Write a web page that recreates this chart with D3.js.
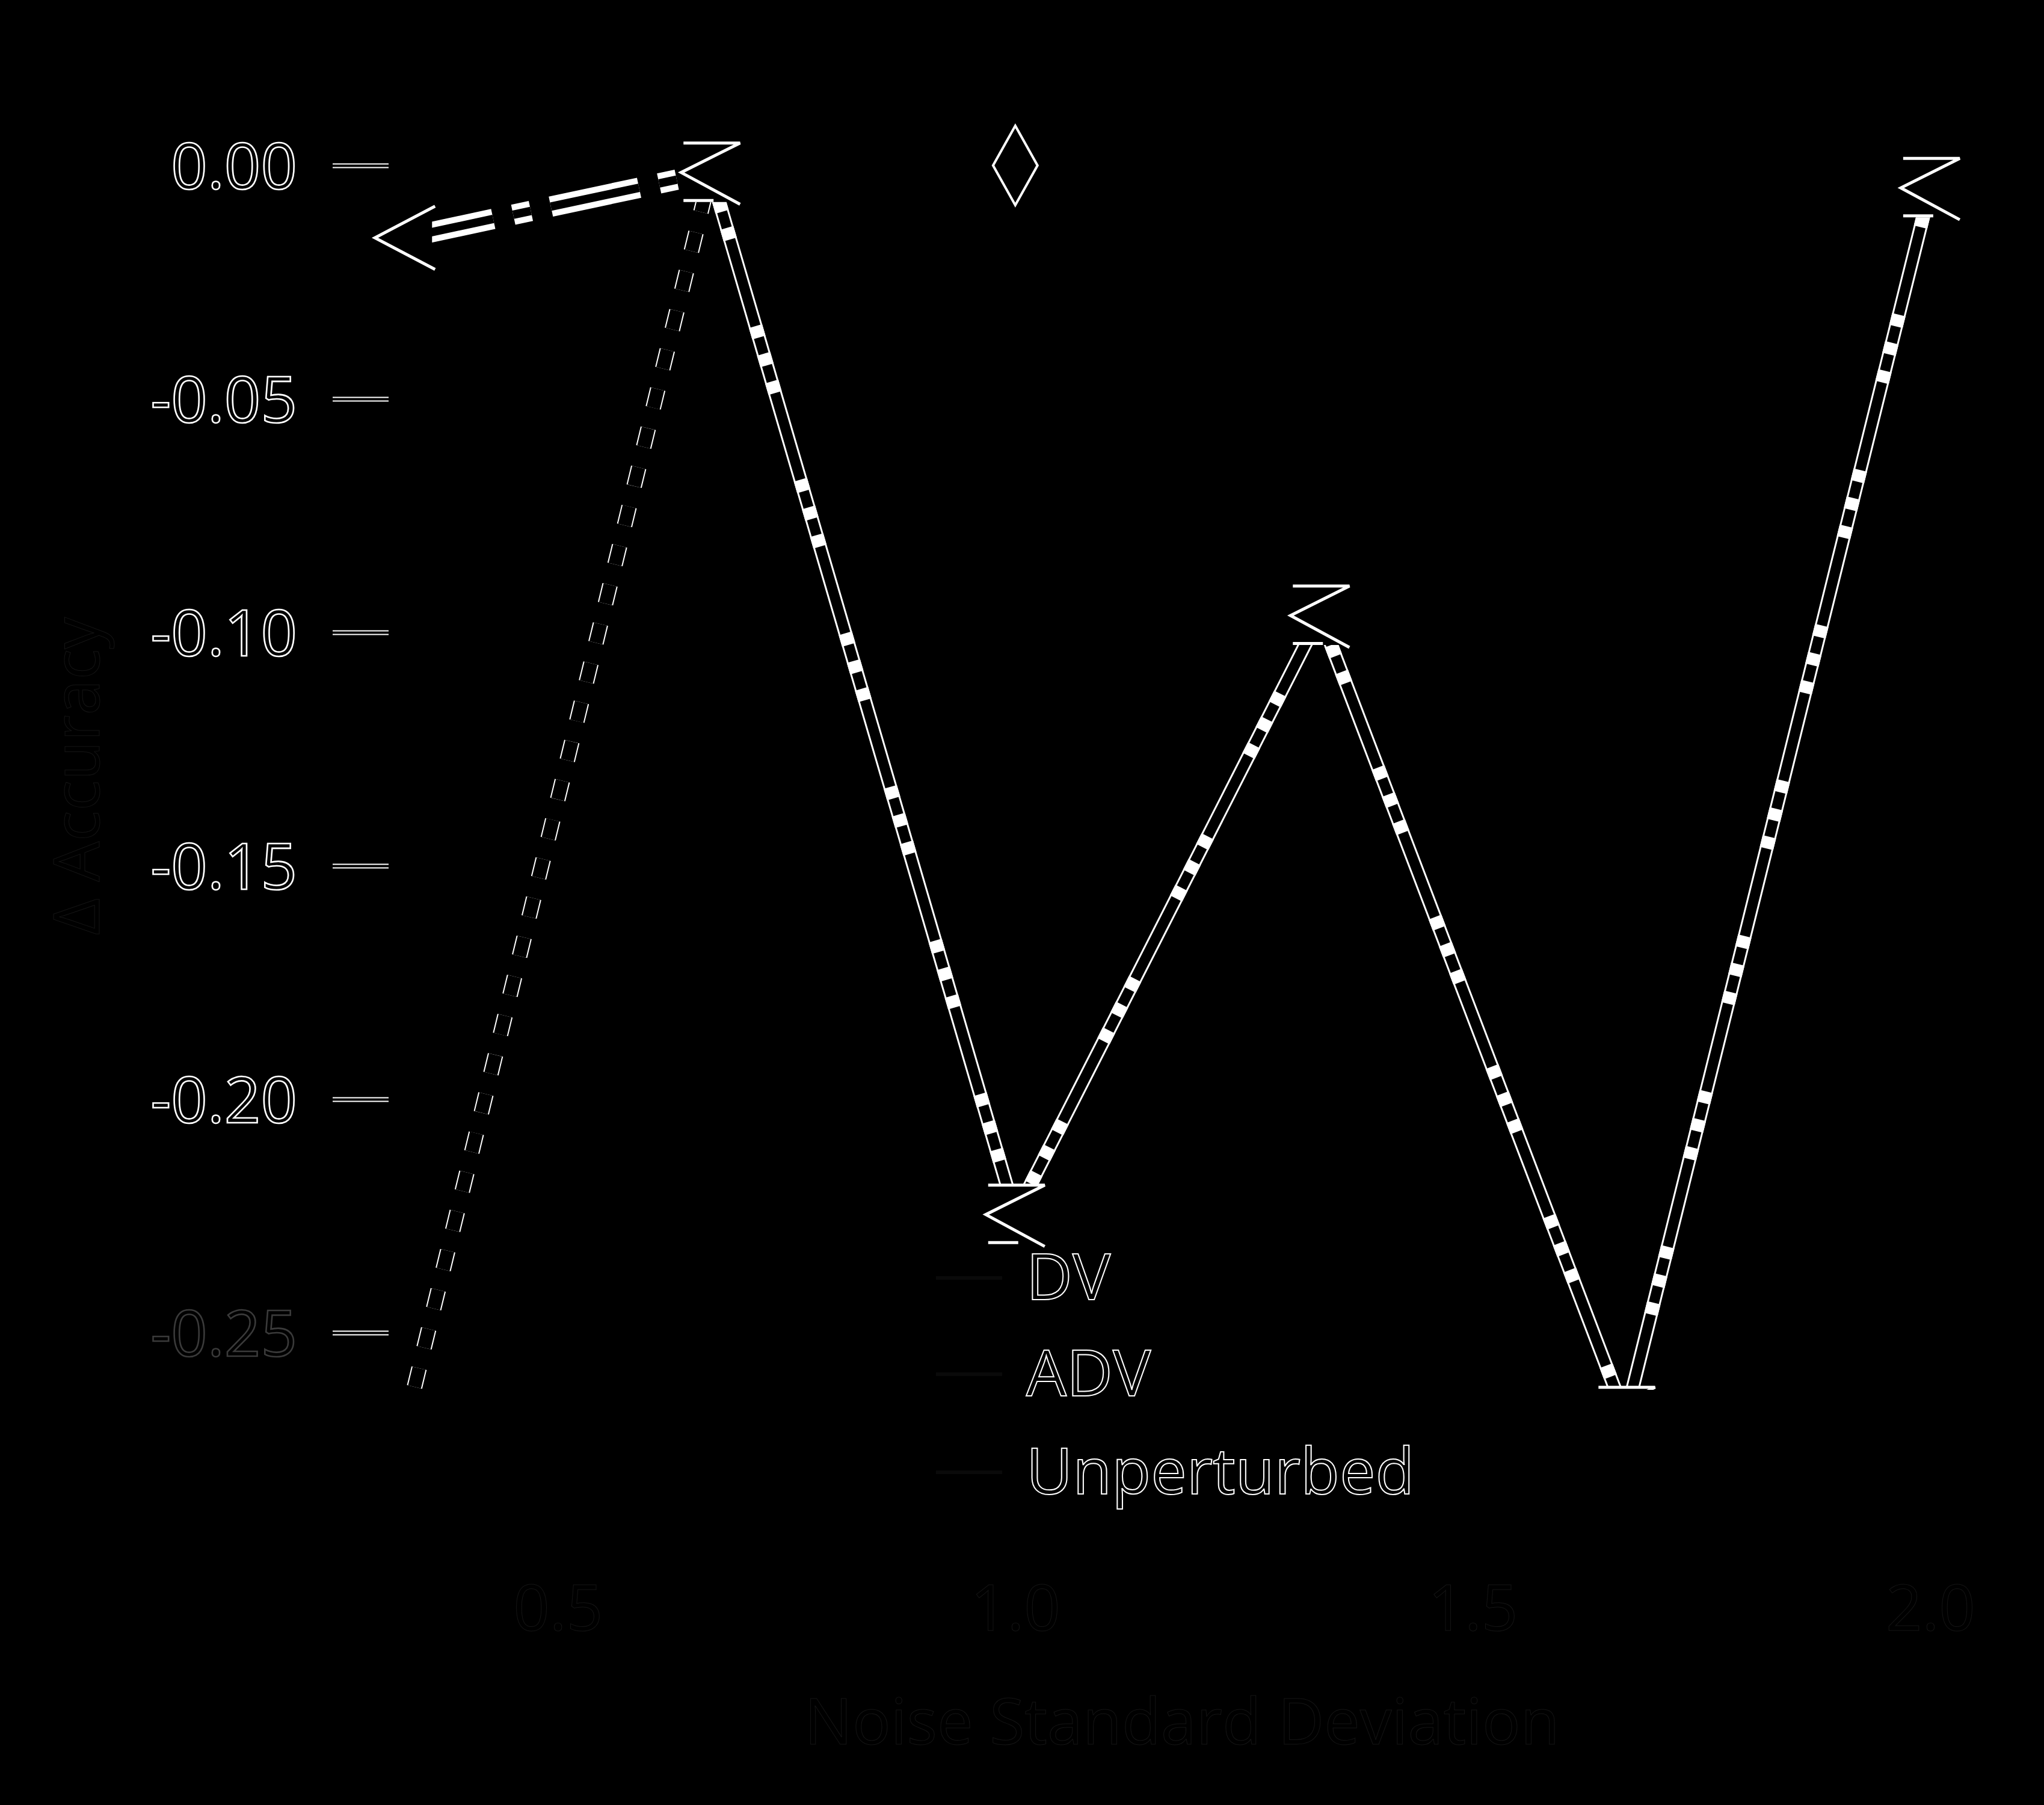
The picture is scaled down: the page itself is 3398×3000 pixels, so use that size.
<!DOCTYPE html>
<html><head><meta charset="utf-8">
<script src="https://cdn.jsdelivr.net/npm/d3@7"></script>
<style>html,body{margin:0;padding:0;background:#000;} svg{display:block}</style>
</head><body><svg id="c" width="3398" height="3000"></svg>
<script>
// ---- data ----
const xTicks = [0.5, 1.0, 1.5, 2.0];
const yTicks = [0, -0.05, -0.10, -0.15, -0.20, -0.25];
const xW = [0.667, 1.0, 1.333, 1.667, 2.0];
const yW = [-0.0015, -0.2247, -0.0964, -0.268, -0.0048];
const xB = [0.333, 0.667];
const yB = [-0.27, -0.0015];
const xC = [0.333, 0.667];
const yC = [-0.0155, -0.0015];
const xU = [1.0];
const yU = [0.0];
const legendLabels = ["DV", "ADV", "Unperturbed"];
const xTitle = "Noise Standard Deviation";
const yTitle = "Δ Accuracy";

// ---- setup ----
const svg = d3.select("#c");
svg.append("rect").attr("width", 3398).attr("height", 3000).attr("fill", "#000");
const FONT = "'Open Sans', 'DejaVu Sans', sans-serif";
const FAINT = "#151515";

const x = d3.scaleLinear().domain([0.25, 2.05]).range([547, 3285]);
const y = d3.scaleLinear().domain([0, -0.25]).range([275, 2215]);

svg.append("defs").append("clipPath").attr("id", "plot")
  .append("rect").attr("x", 547).attr("y", 150).attr("width", 2851).attr("height", 2160);

// ---- y axis ----
const ya = svg.append("g").attr("transform", "translate(646,0)")
  .call(d3.axisLeft(y).tickValues(yTicks).tickSize(93).tickPadding(59)
    .tickFormat(d => d.toFixed(2)));
ya.select(".domain").remove();
ya.selectAll(".tick line").attr("stroke", "#fff").attr("stroke-width", 8);
ya.selectAll(".tick").append("line").attr("x2", -93).attr("stroke", "#000").attr("stroke-width", 4);
ya.selectAll(".tick text").attr("dy", "0.36em")
  .attr("font-family", FONT).attr("font-size", 106)
  .attr("fill", "none").attr("stroke", d => d === -0.25 ? "#3a3a3a" : "#fff")
  .attr("stroke-width", 2.6);

// ---- x axis (nearly invisible) ----
const xa = svg.append("g").attr("transform", "translate(0,2635)")
  .call(d3.axisBottom(x).tickValues(xTicks).tickSize(0).tickPadding(0)
    .tickFormat(d3.format(".1f")));
xa.select(".domain").remove();
xa.selectAll(".tick text").attr("font-family", FONT).attr("font-size", 106)
  .attr("fill", "none").attr("stroke", FAINT).attr("stroke-width", 1);

svg.append("text").attr("x", 1965).attr("y", 2899).attr("text-anchor", "middle")
  .attr("font-family", FONT).attr("font-size", 106)
  .attr("fill", "none").attr("stroke", FAINT).attr("stroke-width", 1).text(xTitle);
svg.append("text").attr("transform", "translate(165,1290) rotate(-90)").attr("text-anchor", "middle")
  .attr("font-family", FONT).attr("font-size", 106)
  .attr("fill", "none").attr("stroke", FAINT).attr("stroke-width", 1).text(yTitle);

// ---- lines ----
const plot = svg.append("g").attr("clip-path", "url(#plot)");
const line = d3.line().x(d => x(d[0])).y(d => y(d[1]));
const W = d3.zip(xW, yW), B = d3.zip(xB, yB), C = d3.zip(xC, yC);

// series B : thin double dashed
plot.append("path").datum(B).attr("d", line).attr("fill", "none")
  .attr("stroke", "#fff").attr("stroke-width", 26).attr("stroke-dasharray", "32,35");
plot.append("path").datum(B).attr("d", line).attr("fill", "none")
  .attr("stroke", "#000").attr("stroke-width", 22).attr("stroke-dasharray", "32,35");

// series C : dash-dot double strips
plot.append("path").datum(C).attr("d", line).attr("fill", "none")
  .attr("stroke", "#fff").attr("stroke-width", 34).attr("stroke-dasharray", "150,34,30,34");
plot.append("path").datum(C).attr("d", line).attr("fill", "none")
  .attr("stroke", "#000").attr("stroke-width", 14).attr("stroke-dasharray", "150,34,30,34");

// series W : outlined thick line with blocks
plot.append("path").datum(W).attr("d", line).attr("fill", "none")
  .attr("stroke", "#fff").attr("stroke-width", 23);
plot.append("path").datum(W).attr("d", line).attr("fill", "none")
  .attr("stroke", "#000").attr("stroke-width", 17);
plot.append("path").datum(W).attr("d", line).attr("fill", "none")
  .attr("stroke", "#fff").attr("stroke-width", 23).attr("stroke-dasharray", "20,28,20,28,20,150");

// ---- markers ----
const sigmaType = { draw(ctx, size) { const r = Math.sqrt(size) / 2;
  ctx.moveTo(-0.92 * r, -r); ctx.lineTo(r, -r); ctx.lineTo(-r, 0); ctx.lineTo(r, 1.08 * r);
  ctx.moveTo(-0.92 * r, 0.95 * r); ctx.lineTo(0.1 * r, 0.95 * r); } };
const triLeftType = { draw(ctx, size) { const r = Math.sqrt(size) / 2;
  ctx.moveTo(r, -1.05 * r); ctx.lineTo(-r, 0); ctx.lineTo(r, 1.05 * r); } };
const thinDiamond = { draw(ctx, size) { const r = Math.sqrt(size) / 2;
  ctx.moveTo(0, -r); ctx.lineTo(0.56 * r, 0); ctx.lineTo(0, r); ctx.lineTo(-0.56 * r, 0); ctx.closePath(); } };

const mW = plot.selectAll(".mw").data(W).join("g").attr("class", "mw")
  .attr("transform", d => `translate(${x(d[0])},${y(d[1])})`);
mW.append("path").attr("d", d3.symbol().type(d3.symbolSquare).size(98 * 98)).attr("fill", "#000");
mW.append("path").attr("d", d3.symbol().type(sigmaType).size(98 * 98))
  .attr("fill", "none").attr("stroke", "#fff").attr("stroke-width", 5);

const mC = plot.selectAll(".mc").data(C.slice(0, 1)).join("g").attr("class", "mc")
  .attr("transform", d => `translate(${x(d[0])},${y(d[1])})`);
mC.append("path").attr("d", d3.symbol().type(d3.symbolSquare).size(90 * 90)).attr("fill", "#000");
mC.append("path").attr("d", d3.symbol().type(triLeftType).size(100 * 100))
  .attr("fill", "none").attr("stroke", "#fff").attr("stroke-width", 5);

plot.selectAll(".mu").data(d3.zip(xU, yU)).join("path").attr("class", "mu")
  .attr("transform", d => `translate(${x(d[0])},${y(d[1])})`)
  .attr("d", d3.symbol().type(thinDiamond).size(132 * 132))
  .attr("fill", "#000").attr("stroke", "#fff").attr("stroke-width", 4);

// ---- legend ----
const baselines = [2160, 2320, 2483];
const lg = svg.append("g");
const rows = lg.selectAll("g").data(legendLabels).join("g")
  .attr("transform", (d, i) => `translate(1706,${baselines[i]})`);
rows.append("line").attr("x1", -150).attr("x2", -40).attr("y1", -36).attr("y2", -36)
  .attr("stroke", "#0a0a0a").attr("stroke-width", 6);
rows.append("text").attr("font-family", FONT).attr("font-size", 106)
  .attr("fill", "none").attr("stroke", "#fff").attr("stroke-width", 2).text(d => d);
</script></body></html>
